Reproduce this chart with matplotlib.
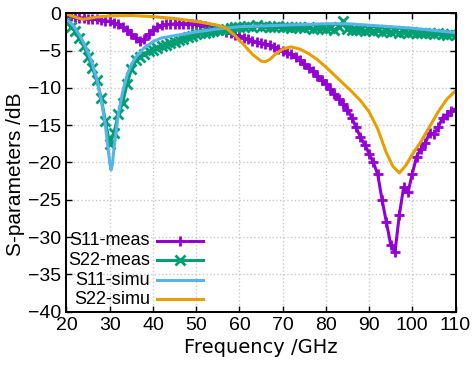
import matplotlib
matplotlib.use('Agg')
import matplotlib.pyplot as plt
from matplotlib.lines import Line2D
import numpy as np

# measured data, one value per GHz from 20 to 110
meas_freq = list(range(20, 111))
s11_meas = [
    -0.3, -0.4, -0.5, -0.6, -0.6, -0.7, -0.7, -0.8, -0.9, -1.0,
    -1.1, -1.3, -1.5, -1.9, -2.3, -2.8, -3.3, -3.7, -3.5, -2.8,
    -2.2, -1.8, -1.6, -1.5, -1.5, -1.4, -1.4, -1.4, -1.4, -1.4,
    -1.5, -1.6, -1.7, -1.8, -2.0, -2.1, -2.3, -2.5, -2.6, -2.9,
    -3.1, -3.3, -3.5, -3.7, -3.8, -4.0, -4.1, -4.3, -4.5, -4.8,
    -5.0, -5.3, -5.5, -5.9, -6.3, -6.8, -7.3, -7.8, -8.4, -9.0,
    -9.5, -10.1, -10.8, -11.5, -12.2, -12.9, -14.0, -15.3, -16.6, -17.6,
    -18.8, -20.0, -21.6, -25.0, -28.0, -31.0, -32.0, -27.0, -23.3, -24.0,
    -21.5, -19.2, -18.2, -17.4, -16.0, -16.2, -15.3, -14.0, -13.6, -13.1,
    -12.8,
]
s22_meas = [
    -1.2, -1.8, -2.4, -3.3, -4.4, -5.8, -7.3, -9.0, -11.3, -14.5,
    -17.5, -16.0, -13.5, -12.0, -9.5, -7.5, -6.3, -5.8, -5.4, -5.1,
    -4.9, -4.6, -4.4, -4.2, -4.0, -3.8, -3.6, -3.4, -3.2, -3.0,
    -2.8, -2.7, -2.6, -2.5, -2.4, -2.3, -2.2, -2.1, -2.0, -1.9,
    -1.8, -1.9, -1.7, -1.8, -1.6, -1.8, -1.7, -1.9, -1.8, -1.7,
    -1.9, -1.8, -2.0, -1.8, -1.9, -2.0, -1.9, -2.1, -2.0, -2.0,
    -2.1, -2.0, -2.2, -1.9, -1.1, -2.1, -2.2, -2.3, -2.2, -2.4,
    -2.3, -2.4, -2.3, -2.5, -2.4, -2.5, -2.4, -2.6, -2.5, -2.6,
    -2.5, -2.7, -2.6, -2.7, -2.6, -2.8, -2.7, -2.8, -2.9, -2.8,
    -2.9,
]

# simulated data
s11_simu_freq = [20, 21, 22, 23, 24, 25, 26, 27, 28, 29, 29.5, 30, 30.3,
                 30.6, 31, 32, 33, 34, 35, 36, 38, 40, 42, 45, 50, 55, 60,
                 65, 70, 75, 80, 85, 90, 95, 100, 105, 110]
s11_simu = [-0.9, -1.3, -2.0, -2.9, -4.0, -5.3, -6.8, -8.8, -11.5, -15.0,
            -17.5, -20.0, -21.0, -20.3, -18.0, -13.5, -10.5, -8.3, -6.9,
            -5.9, -4.6, -3.8, -3.3, -3.0, -2.5, -2.1, -1.8, -1.7, -1.6,
            -1.5, -1.4, -1.4, -1.6, -1.8, -2.0, -2.3, -2.6]

s22_simu_freq = [20, 22, 23, 24, 25, 27, 30, 35, 40, 45, 50, 55, 57, 59,
                 61, 63, 65, 66, 67, 68.5, 70, 72, 74, 76, 78, 80, 82, 84,
                 86, 88, 90, 92, 94, 95.5, 97, 98.5, 100, 102, 104, 106,
                 108, 110]
s22_simu = [-0.1, -0.5, -0.7, -0.8, -0.7, -0.5, -0.35, -0.3, -0.45, -0.7,
            -1.1, -1.6, -2.0, -3.0, -4.2, -5.5, -6.4, -6.5, -6.2, -5.4,
            -4.8, -4.5, -4.8, -5.4, -6.2, -7.2, -8.3, -9.4, -10.5, -11.7,
            -13.2, -15.5, -18.7, -20.5, -21.4, -20.4, -18.9, -17.2, -15.2,
            -13.2, -11.5, -10.4]

labels = ['S11-meas', 'S22-meas', 'S11-simu', 'S22-simu']
colors = ['#9400D3', '#009E73', '#56B4E9', '#E69F00']
markers = ['+', 'x', None, None]
msizes = [7.5, 6.5, 0, 0]

plt.rcParams['font.family'] = ['Liberation Sans', 'DejaVu Sans']

fig = plt.figure(figsize=(4.77, 3.65), dpi=100)
ax = fig.add_axes([0.1394, 0.146, 0.8156, 0.8176])

series = [
    (meas_freq, s11_meas),
    (meas_freq, s22_meas),
    (s11_simu_freq, s11_simu),
    (s22_simu_freq, s22_simu),
]
for (x, y), color, marker, ms in zip(series, colors, markers, msizes):
    ax.plot(x, y, color=color, lw=2.2, marker=marker, ms=ms, mew=2.0)

ax.set_xlim(20, 110)
ax.set_ylim(-40, 0)
ax.set_xticks(np.arange(20, 111, 10))
ax.set_yticks(np.arange(-40, 1, 5))
ax.tick_params(direction='in', top=True, right=True, length=4, width=1,
               labelsize=14)
ax.tick_params(axis='x', pad=4)
ax.tick_params(axis='y', pad=4)
ax.grid(True, color='#c8c8c8', linestyle=':', linewidth=1)
for sp in ax.spines.values():
    sp.set_linewidth(1.4)

ax.set_xlabel('Frequency /GHz', fontsize=14, family='DejaVu Sans',
              labelpad=3)
ax.set_ylabel('S-parameters /dB', fontsize=15)
ax.yaxis.set_label_coords(-0.107, 0.4615)

# gnuplot-style legend: right aligned text, sample to the right
rows = [0.238, 0.173, 0.106, 0.042]
for row, label, color, marker, ms in zip(rows, labels, colors, markers,
                                         msizes):
    ax.text(0.2147, row, label, transform=ax.transAxes, ha='right',
            va='center', fontsize=13)
    ax.add_line(Line2D([0.2334, 0.350], [row, row], transform=ax.transAxes,
                       color=color, lw=2.2))
    if marker:
        ax.add_line(Line2D([0.2917], [row], transform=ax.transAxes,
                           color=color, marker=marker, ms=ms, mew=2.0))

fig.savefig('out.png', dpi=100)
